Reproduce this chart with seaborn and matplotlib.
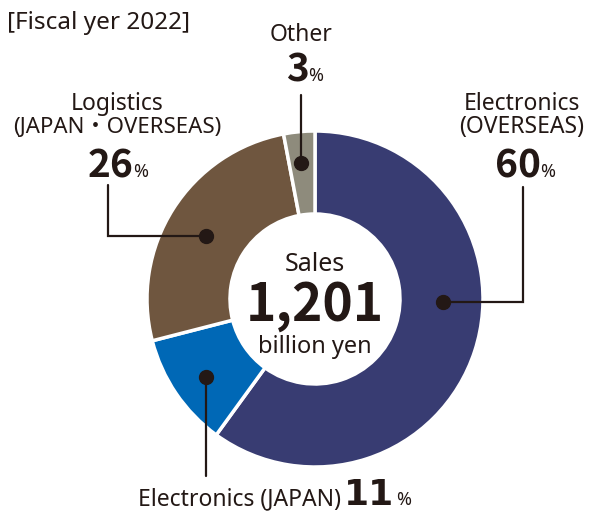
import matplotlib
matplotlib.use("Agg")
import matplotlib.pyplot as plt
import seaborn as sns

# data
segments = ["Electronics (OVERSEAS)", "Electronics (JAPAN)", "Logistics (JAPAN・OVERSEAS)", "Other"]
shares = [60, 11, 26, 3]
colors = ["#383c72", "#0068b6", "#6f563f", "#8e8b7c"]
total_sales = "1,201"
title = "[Fiscal yer 2022]"

W, H = 589, 512
TXT = "#231815"
BOLD = ['Noto Sans CJK JP', 'DejaVu Sans']

sns.set_theme(style="white")
plt.rcParams['font.family'] = ['Noto Sans', 'Noto Sans CJK JP', 'DejaVu Sans']

fig = plt.figure(figsize=(W / 100, H / 100), dpi=100)
ax = fig.add_axes([0, 0, 1, 1])


def Y(py):
    # pixel row from top -> data y
    return H - py


cx, cy, r_out, r_in = 315, 299, 168, 85

ax.pie(shares, colors=colors, startangle=90, counterclock=False,
       center=(cx, Y(cy)), radius=r_out,
       wedgeprops=dict(width=r_out - r_in, edgecolor='white', linewidth=2.5))
ax.set_xlim(0, W)
ax.set_ylim(0, H)
ax.set_aspect('equal')
ax.axis('off')

LBL = 16.5

# center text
ax.text(cx, Y(271), "Sales", ha='center', va='baseline', fontsize=18, color=TXT)
ax.text(cx, Y(321), total_sales, ha='center', va='baseline', fontsize=37,
        fontweight='bold', family=BOLD, color=TXT)
ax.text(cx, Y(353), "billion yen", ha='center', va='baseline', fontsize=17, color=TXT)

# title
ax.text(7, Y(29), title, ha='left', va='baseline', fontsize=17.5, color=TXT)

# leader lines: first point is the dot
leaders = [
    [(443, 302), (523, 302), (523, 187)],
    [(206, 377), (206, 476)],
    [(206, 236), (108, 236), (108, 185)],
    [(301, 163), (301, 95)],
]
for pts in leaders:
    xs = [p[0] for p in pts]
    ys = [Y(p[1]) for p in pts]
    ax.plot(xs, ys, color=TXT, lw=1.6, solid_joinstyle='miter')
    ax.plot(xs[0], ys[0], 'o', color=TXT, ms=10)


def pct(x_num_right, base, value, big=28, small=13):
    ax.text(x_num_right, Y(base), str(value), ha='right', va='baseline',
            fontsize=big, fontweight='bold', family=BOLD, color=TXT)
    ax.text(x_num_right - 1, Y(base), "%", ha='left', va='baseline',
            fontsize=small, color=TXT)


# Electronics OVERSEAS
ax.text(522, Y(110), "Electronics", ha='center', va='baseline', fontsize=LBL, color=TXT)
ax.text(522, Y(133), "(OVERSEAS)", ha='center', va='baseline', fontsize=LBL, color=TXT)
pct(541, 177, shares[0])

# Logistics
ax.text(117, Y(110), "Logistics", ha='center', va='baseline', fontsize=LBL, color=TXT)
ax.text(117, Y(133), "(JAPAN・OVERSEAS)", ha='center', va='baseline', fontsize=LBL - 0.5, color=TXT)
pct(134, 177, shares[2])

# Other
ax.text(301, Y(41), "Other", ha='center', va='baseline', fontsize=LBL, color=TXT)
pct(309, 81, shares[3])

# Electronics JAPAN
ax.text(341, Y(505), "Electronics (JAPAN)", ha='right', va='baseline', fontsize=LBL, color=TXT)
ax.text(344, Y(505), "11", ha='left', va='baseline', fontsize=26,
        fontweight='bold', family='DejaVu Sans', color=TXT)
ax.text(396, Y(505), "%", ha='left', va='baseline', fontsize=13, color=TXT)

fig.savefig("out.png", dpi=100)
